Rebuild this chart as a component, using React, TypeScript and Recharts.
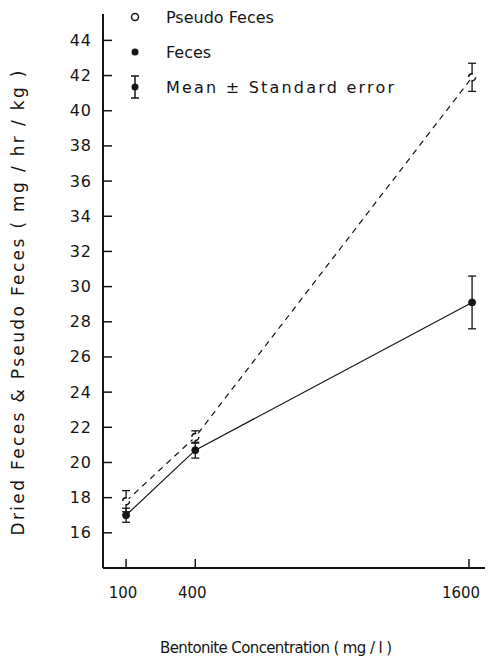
import {
  LineChart,
  Line,
  XAxis,
  YAxis,
  ErrorBar,
  Legend,
} from "recharts";

const concentrations = [100, 400, 1600];
const pseudoFeces = [17.8, 21.45, 41.9];
const pseudoFecesSE = [0.6, 0.35, 0.8];
const feces = [17.0, 20.7, 29.1];
const fecesSE = [0.4, 0.45, 1.5];
const yTicks = [16, 18, 20, 22, 24, 26, 28, 30, 32, 34, 36, 38, 40, 42, 44];

const data = concentrations.map((c, i) => ({
  conc: c,
  pseudo: pseudoFeces[i],
  pseudoSE: pseudoFecesSE[i],
  feces: feces[i],
  fecesSE: fecesSE[i],
}));

const ink = "#151515";
const font = "'DejaVu Sans', sans-serif";

const YTick = (props: any) => {
  const { x, y, payload } = props;
  return (
    <g>
      <line x1={x} y1={y} x2={x + 9} y2={y} stroke={ink} strokeWidth={1.5} />
      <text
        x={x - 11}
        y={y}
        textAnchor="end"
        dominantBaseline="central"
        fontSize={16}
        fontFamily={font}
        fill={ink}
        letterSpacing={1}
      >
        {payload.value}
      </text>
    </g>
  );
};

const XTick = (props: any) => {
  const { x, y, payload } = props;
  // the last label sits near the right edge, keep it inside
  const dx = payload.value === 1600 ? -8 : -3;
  return (
    <g>
      <line x1={x} y1={y} x2={x} y2={y - 9} stroke={ink} strokeWidth={1.5} />
      <text
        x={x + dx}
        y={y + 25}
        textAnchor="middle"
        dominantBaseline="central"
        fontSize={15}
        fontFamily={font}
        fill={ink}
      >
        {payload.value}
      </text>
    </g>
  );
};

const YLabel = () => (
  <text
    transform="translate(10,295) rotate(-90)"
    textAnchor="middle"
    dominantBaseline="central"
    fontSize={17}
    fontFamily={font}
    fill={ink}
    textLength={465}
    lengthAdjust="spacing"
  >
    Dried Feces &amp; Pseudo Feces ( mg / hr / kg )
  </text>
);

const XLabel = () => (
  <text
    x={268}
    y={640}
    textAnchor="middle"
    dominantBaseline="central"
    fontSize={15}
    fontFamily={font}
    fill={ink}
    textLength={232}
    lengthAdjust="spacing"
  >
    Bentonite Concentration ( mg / l )
  </text>
);

const LegendBox = () => (
  <svg width={420} height={100}>
    <circle cx={127} cy={9} r={3.5} fill="#fff" stroke={ink} strokeWidth={1.5} />
    <text x={158} y={9} dominantBaseline="central" fontSize={16} fontFamily={font} fill={ink}>
      Pseudo Feces
    </text>
    <circle cx={127} cy={44} r={3.5} fill={ink} />
    <text x={158} y={44} dominantBaseline="central" fontSize={16} fontFamily={font} fill={ink}>
      Feces
    </text>
    <line x1={127} y1={68} x2={127} y2={90} stroke={ink} strokeWidth={1.5} />
    <line x1={123} y1={68} x2={131} y2={68} stroke={ink} strokeWidth={1.5} />
    <line x1={123} y1={90} x2={131} y2={90} stroke={ink} strokeWidth={1.5} />
    <circle cx={127} cy={79} r={3.5} fill={ink} />
    <text
      x={158}
      y={79}
      dominantBaseline="central"
      fontSize={16}
      fontFamily={font}
      fill={ink}
      textLength={228}
      lengthAdjust="spacing"
    >
      Mean ± Standard error
    </text>
  </svg>
);

export default function App() {
  return (
    <>
      <style>{"html,body{overflow:hidden}"}</style>
      <LineChart
        width={477}
        height={657}
        data={data}
        margin={{ top: 6, right: 0, left: 0, bottom: 37 }}
      >
        <XAxis
          type="number"
          dataKey="conc"
          domain={[0, 1656]}
          ticks={concentrations}
          tickSize={0}
          tickMargin={0}
          tick={<XTick />}
          height={60}
          axisLine={{ stroke: ink, strokeWidth: 2 }}
          allowDataOverflow
          label={<XLabel />}
        />
        <YAxis
          type="number"
          domain={[14, 45.5]}
          ticks={yTicks}
          tickSize={0}
          tickMargin={0}
          tick={<YTick />}
          width={95}
          axisLine={{ stroke: ink, strokeWidth: 2 }}
          allowDataOverflow
          label={<YLabel />}
        />
        <Legend
          layout="vertical"
          align="center"
          verticalAlign="middle"
          wrapperStyle={{ top: 0, left: 0, width: 420, height: 100 }}
          content={<LegendBox />}
        />
        <Line
          dataKey="pseudo"
          name="Pseudo Feces"
          stroke={ink}
          strokeWidth={1.2}
          strokeDasharray="6 5"
          dot={{ r: 3.5, fill: "#fff", stroke: ink, strokeWidth: 1.5 }}
          isAnimationActive={false}
        >
          <ErrorBar dataKey="pseudoSE" direction="y" width={4} stroke={ink} strokeWidth={1.3} />
        </Line>
        <Line
          dataKey="feces"
          name="Feces"
          stroke={ink}
          strokeWidth={1.2}
          dot={{ r: 3.5, fill: ink, stroke: ink, strokeWidth: 1 }}
          isAnimationActive={false}
        >
          <ErrorBar dataKey="fecesSE" direction="y" width={4} stroke={ink} strokeWidth={1.3} />
        </Line>
      </LineChart>
    </>
  );
}
